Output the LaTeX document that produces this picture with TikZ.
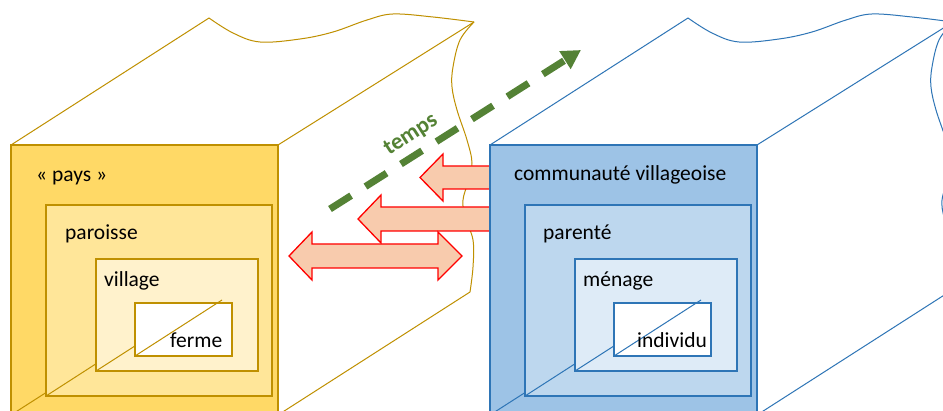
\documentclass[tikz,border=0pt]{standalone}
\usepackage{fontspec}
\setmainfont{Carlito}
\usetikzlibrary{arrows.meta}
\definecolor{ystroke}{HTML}{BF9000}
\definecolor{yfillA}{HTML}{FFD966}
\definecolor{yfillB}{HTML}{FFE699}
\definecolor{yfillC}{HTML}{FFF2CC}
\definecolor{bstroke}{HTML}{2E75B6}
\definecolor{bfillA}{HTML}{9DC3E6}
\definecolor{bfillB}{HTML}{BDD7EE}
\definecolor{bfillC}{HTML}{DEEBF7}
\definecolor{tgreen}{HTML}{548235}
\definecolor{afill}{HTML}{F8CBAD}
\newcommand{\mycubeshape}[4]{%
  \draw[edge,#1] (11,145) -- (209,18);
  \draw[edge,#1] (278,145) -- (474,22);
  \draw[edge,#1] plot[smooth,tension=0.6] coordinates {(209,18) (233,33) (260,42) (300,39) (333,32) (367,20) (393,14) (433,17) (474,22)};
  \draw[edge,#1] plot[smooth,tension=0.6] coordinates {(474,22) (460,40) (453,67) (452,87) (457,110) (467,140) (472,163) (468,182) (463,200) (465,217) (473,240) (473,267) (470,292)};
  \draw[edge,#1] (470,292) -- (278,415);
  \draw[box,draw=#1,fill=#2] (11,145) rectangle (278,430);
  \draw[edge,#1] (11,415) -- (100,358);
  \draw[box,draw=#1,fill=#3] (46,205) rectangle (272,396);
  \draw[edge,#1] (46,396) -- (150,329);
  \draw[box,draw=#1,fill=#4] (96,259) rectangle (258,371);
  \draw[edge,#1] (96,371) -- (180,317);
  \draw[box,draw=#1,fill=white] (135,303) rectangle (232,356);
  \draw[edge,#1] (135,356) -- (222,300);
}
\begin{document}
\begin{tikzpicture}[x=1pt,y=-1pt,
  edge/.style={line width=1pt},
  box/.style={line width=1.3pt},
  lbl/.style={anchor=base west, inner sep=0pt, font=\fontsize{21.5}{26}\selectfont},
  blockarrow/.style={fill=afill, draw=red, line width=1.3pt, line join=miter},
  timearrow/.style={tgreen, line width=7pt, dash pattern=on 25pt off 17pt, -{Triangle[length=19pt,width=20pt]}}
]
\useasboundingbox (0,0) rectangle (943,411);
\clip (0,0) rectangle (943,411);
\fill[white] (0,0) rectangle (943,411);

% yellow cube
\mycubeshape{ystroke}{yfillA}{yfillB}{yfillC}

% time arrow
\coordinate (ts) at (330,209);
\coordinate (te) at (581,50);
\draw[timearrow] (ts) -- (te);
\node[rotate=33, inner sep=0pt, font=\fontsize{23}{27}\selectfont\bfseries, text=tgreen] (temps) at (411,135) {temps};

% block arrows
\draw[blockarrow] (420,177.5) -- (443,154) -- (443,166) -- (500,166) -- (500,189) -- (443,189) -- (443,201) -- cycle;
\draw[blockarrow] (358,219) -- (381,195) -- (381,207) -- (500,207) -- (500,231) -- (381,231) -- (381,243) -- cycle;
\draw[blockarrow] (289,256) -- (312,232) -- (312,244) -- (438,244) -- (438,232) -- (462,256) -- (438,280) -- (438,268) -- (312,268) -- (312,280) -- cycle;

% blue cube
\begin{scope}[xshift=479pt]
\mycubeshape{bstroke}{bfillA}{bfillB}{bfillC}
\end{scope}

% labels
\node[lbl] (pays) at (36,182) {« pays »};
\node[lbl] (paroisse) at (65,240) {paroisse};
\node[lbl] (village) at (104,287) {village};
\node[lbl] (ferme) at (170,348) {ferme};
\node[lbl] (commu) at (514,181) {communauté villageoise};
\node[lbl] (parente) at (543,240) {parenté};
\node[lbl] (menage) at (583,287) {ménage};
\node[lbl] (individu) at (637,348) {individu};
\end{tikzpicture}
\end{document}
